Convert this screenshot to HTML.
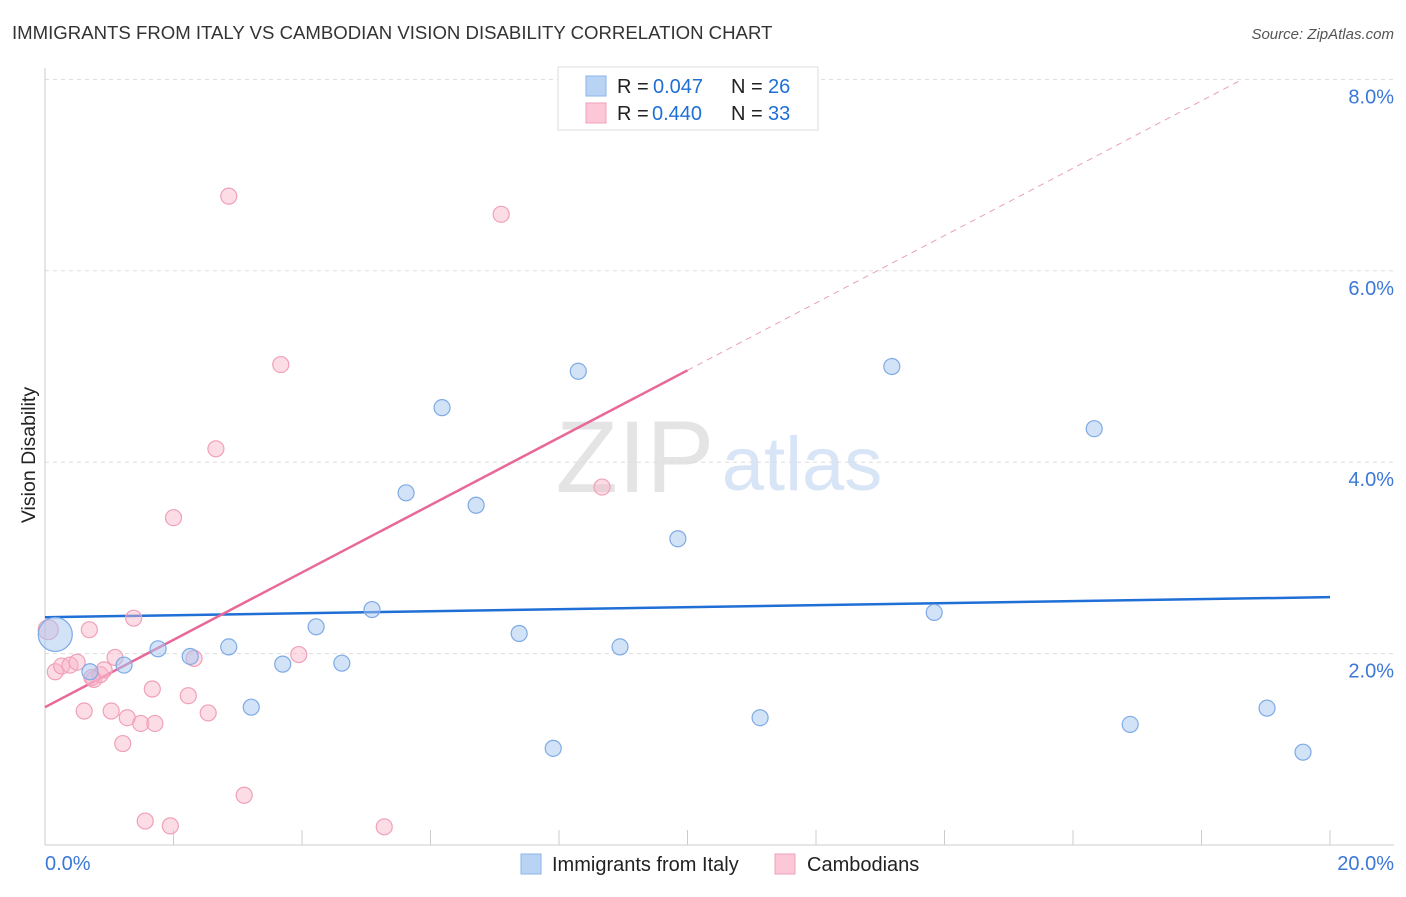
<!DOCTYPE html>
<html><head><meta charset="utf-8"><style>
body{margin:0;background:#fff;font-family:"Liberation Sans",sans-serif;}
svg text{font-family:"Liberation Sans",sans-serif;}
</style></head><body>
<svg id="chart" width="1406" height="892">
<text x="12" y="39" font-size="18.6" fill="#333">IMMIGRANTS FROM ITALY VS CAMBODIAN VISION DISABILITY CORRELATION CHART</text>
<text x="1394" y="39" font-size="15" fill="#555" font-style="italic" text-anchor="end">Source: ZipAtlas.com</text>
<text x="35" y="455" font-size="19.5" fill="#222" transform="rotate(-90 35 455)" text-anchor="middle">Vision Disability</text>
<g><text x="635" y="492" font-size="102" fill="#e4e4e4" font-family="Liberation Serif" text-anchor="middle">ZIP</text><text x="802" y="490" font-size="76" fill="#d8e5f6" text-anchor="middle">atlas</text></g>
<g id="grid"></g><g id="axes"></g><g id="lines"></g><g id="pts"></g>
<g>
<rect x="558" y="67" width="260" height="63" fill="#fff" stroke="#ddd"/>
<rect x="586" y="76" width="20" height="20" fill="#b9d3f5" stroke="#8ab4e8"/>
<text x="617" y="93" font-size="20" fill="#222">R =</text>
<text x="653" y="93" font-size="20" fill="#1f6fd6">0.047</text>
<text x="731" y="93" font-size="20" fill="#222">N =</text>
<text x="768" y="93" font-size="20" fill="#1f6fd6">26</text>
<rect x="586" y="103" width="20" height="20" fill="#fcc8d8" stroke="#f0a0b8"/>
<text x="617" y="120" font-size="20" fill="#222">R =</text>
<text x="652" y="120" font-size="20" fill="#1f6fd6">0.440</text>
<text x="731" y="120" font-size="20" fill="#222">N =</text>
<text x="768" y="120" font-size="20" fill="#1f6fd6">33</text>
</g>
<g>
<rect x="521" y="854" width="20" height="20" fill="#b9d3f5" stroke="#8ab4e8"/>
<text x="552" y="871" font-size="20" fill="#222">Immigrants from Italy</text>
<rect x="775" y="854" width="20" height="20" fill="#fcc8d8" stroke="#f0a0b8"/>
<text x="807" y="871" font-size="20" fill="#222">Cambodians</text>
</g>
</svg>
<script>
const blueX=[0.16,0.70,1.23,1.76,2.26,2.86,3.21,3.70,4.22,4.62,5.09,5.62,6.18,6.71,7.38,7.91,8.30,8.95,9.85,11.13,13.18,13.84,16.33,16.89,19.02,19.58];
const blueY=[2.20,1.81,1.88,2.05,1.97,2.07,1.44,1.89,2.28,1.90,2.46,3.68,4.57,3.55,2.21,1.01,4.95,2.07,3.20,1.33,5.00,2.43,4.35,1.26,1.43,0.97];
const pinkX=[0.05,0.16,0.26,0.39,0.5,0.61,0.69,0.76,0.86,0.92,1.03,1.09,1.21,1.28,1.38,1.49,1.56,1.67,1.71,1.95,2.0,2.23,2.32,2.54,2.66,2.86,3.10,3.67,3.95,5.28,7.10,8.67,0.73];
const pinkY=[2.25,1.81,1.87,1.88,1.91,1.40,2.25,1.73,1.78,1.83,1.40,1.96,1.06,1.33,2.37,1.27,0.25,1.63,1.27,0.20,3.42,1.56,1.95,1.38,4.14,6.78,0.52,5.02,1.99,0.19,6.59,3.74,1.75];
const yTicks=[2,4,6,8];
const xTickLabels=["0.0%","20.0%"];
const blueTrend=[2.38,2.59];
const pinkTrend=[1.44,0.352];
const X=v=>45+v*64.25, Y=v=>845-v*95.7;
const NS="http://www.w3.org/2000/svg";
function mk(t,a,p){const e=document.createElementNS(NS,t);for(const k in a)e.setAttribute(k,a[k]);document.getElementById(p).appendChild(e);return e;}
yTicks.forEach(t=>{
const l=mk('line',{x1:45,x2:1394,y1:Y(t),y2:Y(t),stroke:'#ddd','stroke-dasharray':'4,4'},'grid');


const tx=mk('text',{x:1394,y:Y(t)+24,'font-size':20,fill:'#3b78d8','text-anchor':'end'},'axes');
tx.textContent=t.toFixed(1)+'%';


});
const ax=mk('line',{x1:45,x2:1394,y1:845,y2:845,stroke:'#ccc'},'axes');


const ay=mk('line',{x1:45,x2:45,y1:68,y2:845,stroke:'#ccc'},'axes');


for(let i=0;i<=20;i+=2){const t=mk('line',{x1:X(i),x2:X(i),y1:830,y2:845,stroke:'#ccc'},'axes');

}
[[0,xTickLabels[0],'start',45],[20,xTickLabels[1],'end',1394]].forEach(d=>{const t=mk('text',{x:d[3],y:870,'font-size':20,fill:'#3b78d8','text-anchor':d[2]},'axes');t.textContent=d[1];

});
const bl=mk('line',{x1:X(0),x2:X(20),y1:Y(blueTrend[0]),y2:Y(blueTrend[1]),stroke:'#1f6fd6','stroke-width':2.5},'lines');


const pe=(8-pinkTrend[0])/pinkTrend[1];
const pd=mk('line',{x1:X(10),x2:X(pe),y1:Y(pinkTrend[0]+10*pinkTrend[1]),y2:Y(8),stroke:'#e8a0b8','stroke-width':1,'stroke-dasharray':'6,5'},'lines');


const pl=mk('line',{x1:X(0),x2:X(10),y1:Y(pinkTrend[0]),y2:Y(pinkTrend[0]+10*pinkTrend[1]),stroke:'#e8689a','stroke-width':2.5},'lines');


pinkX.forEach((x,i)=>{const c=mk('circle',{cx:X(x),cy:Y(pinkY[i]),r:i==0?10:8,fill:'rgba(248,180,200,0.45)',stroke:'#f0a0b8','stroke-width':1.2},'pts');

});
blueX.forEach((x,i)=>{const c=mk('circle',{cx:X(x),cy:Y(blueY[i]),r:i==0?17:8,fill:'rgba(165,198,240,0.5)',stroke:'#7eaae6','stroke-width':1.2},'pts');

});
</script>
</body></html>
